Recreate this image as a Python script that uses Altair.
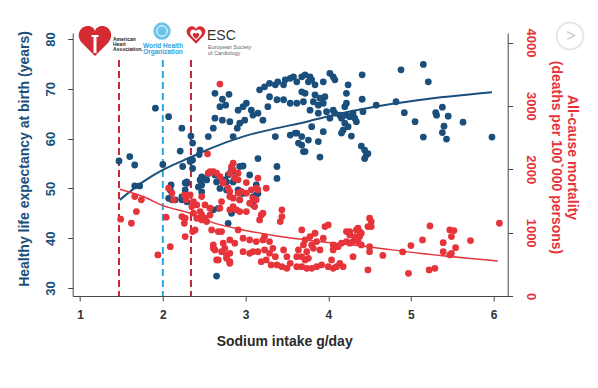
import altair as alt
import pandas as pd

# ---------------- data ----------------
blue_sodium = [1.47, 1.60, 1.66, 1.66, 1.72, 1.91, 2.00, 2.07, 2.10, 2.21, 2.23, 2.24, 2.27, 2.34, 2.36, 2.36, 2.36,
               2.45, 2.44, 2.47, 2.55, 2.61, 2.63, 2.63, 2.69, 2.72, 2.80, 2.76, 2.72, 2.81, 2.85, 2.90, 2.91, 2.97,
               3.01, 3.07, 3.09, 3.15, 3.21, 2.93, 2.99, 3.17, 3.23, 3.29, 3.36, 3.39, 3.46, 3.48, 3.54, 3.58, 3.62,
               3.29, 3.38, 3.46, 3.54, 3.62, 3.27, 3.15, 3.36, 3.38, 3.62, 3.64, 2.93, 2.85, 2.63,
               3.68, 3.72, 3.78, 3.80, 3.76, 3.84, 3.94, 4.02, 4.06, 4.08, 4.24, 4.22, 4.41, 3.68, 3.72, 3.84, 3.90,
               3.96, 3.70, 3.82, 3.88, 3.94, 3.78, 3.88, 3.98, 4.06, 4.08, 4.14, 4.16, 4.22, 4.26, 4.30, 4.32, 4.20,
               4.22, 4.41, 4.42, 4.02, 4.20, 4.24, 4.34, 4.18, 4.16, 4.28, 3.80, 3.94, 3.68, 3.76, 3.88, 3.72, 3.90,
               4.40, 4.44, 4.46, 4.48, 4.44, 4.58, 4.82, 4.88, 4.92, 5.05, 5.15, 5.21, 5.15, 5.30, 5.31, 5.38, 5.45,
               5.40, 5.38, 5.43, 5.63, 5.98,
               2.33, 2.97, 2.29, 2.27, 2.45, 2.49, 2.55, 2.63, 2.69, 2.77, 2.83, 2.87, 3.05, 3.13, 3.15, 3.09, 2.43,
               2.47, 2.07, 2.15, 2.23, 2.29, 2.61, 2.79, 2.65, 2.91, 2.97, 2.93, 3.38, 2.67, 2.83, 3.09, 3.13,
               3.54, 3.60, 3.68, 3.70, 2.79, 2.75, 2.85, 2.65, 2.53, 2.47, 2.69, 2.77, 2.95, 2.09, 2.11, 2.23, 2.29]
life_expectancy = [55.5, 56.4, 54.7, 50.5, 50.5, 66.1, 54.8, 64.4, 50.7, 57.5, 62.1, 54.4, 51.1, 60.5, 59.1, 55.7, 54.0,
                   57.7, 56.8, 52.3, 60.4, 62.1, 64.1, 69.1, 66.4, 67.9, 68.9, 66.7, 63.7, 63.4, 60.4, 62.1, 65.7, 66.4,
                   67.1, 65.7, 64.7, 65.1, 63.7, 63.1, 63.7, 69.8, 70.4, 71.1, 70.8, 71.4, 70.8, 71.8, 72.1, 72.4, 71.4,
                   68.4, 67.8, 67.8, 67.1, 67.1, 66.4, 56.0, 60.4, 54.4, 61.1, 59.1, 54.4, 53.4, 53.0,
                   72.4, 72.8, 72.4, 71.8, 71.4, 70.8, 71.4, 73.1, 72.4, 71.8, 70.8, 69.1, 72.8, 69.4, 69.1, 68.8, 68.1,
                   68.4, 67.4, 67.4, 66.7, 67.1, 65.7, 65.1, 65.4, 65.7, 65.1, 64.7, 64.1, 64.7, 64.4, 65.1, 64.1, 66.4,
                   67.1, 67.9, 65.4, 64.1, 63.1, 62.4, 63.4, 61.7, 61.1, 60.5, 62.4, 61.4, 60.4, 59.7, 59.4, 57.4, 56.3,
                   58.5, 57.7, 56.7, 57.0, 56.0, 66.7, 67.4, 73.8, 65.2, 63.4, 74.9, 71.4, 60.3, 65.2, 64.7, 66.3, 64.5,
                   62.5, 61.2, 59.9, 63.3, 60.3,
                   55.4, 54.5, 51.0, 49.7, 51.7, 52.0, 53.0, 52.7, 52.3, 51.3, 53.7, 52.0, 52.7, 50.7, 49.0, 48.3, 50.3,
                   49.3, 48.0, 47.7, 48.3, 47.3, 45.7, 43.0, 32.4, 49.7, 49.0, 47.7, 52.0, 46.0, 45.0, 46.7, 48.7,
                   60.7, 61.1, 58.7, 57.4, 52.7, 51.7, 51.3, 51.3, 51.7, 50.7, 50.0, 49.7, 49.3, 49.7, 47.7, 47.7, 51.3]

red_sodium = [1.49, 1.62, 1.66, 1.74, 1.68, 1.94, 2.04, 2.09, 2.11, 2.13, 2.07, 2.26, 2.28, 2.23, 2.27, 2.26, 2.27,
              2.35, 2.37, 2.41, 2.36, 2.39, 2.41, 2.47, 2.51, 2.57, 2.45, 2.47, 2.53, 2.59, 2.67, 2.71, 2.61, 2.63,
              2.65, 2.71, 2.77, 2.81, 2.73, 2.81, 2.87, 2.81, 2.85, 2.91, 2.93, 3.01, 3.09, 3.15, 3.25, 2.71, 2.69,
              2.81, 2.93, 3.01, 3.11, 3.19, 2.33, 2.37, 2.47, 2.51, 2.57, 2.55, 2.61, 2.69, 2.73, 2.79, 2.87, 2.81,
              2.95, 2.83, 2.85, 2.91, 3.13, 3.15, 2.85, 2.89, 3.05, 3.13, 3.21, 3.17, 3.44, 3.44, 3.42, 2.91, 2.97,
              3.05, 3.13, 3.21, 3.29, 3.23, 2.61, 2.75, 2.81, 2.67, 2.77, 2.81, 2.97, 3.05, 3.09, 3.15, 3.23, 3.29,
              3.33, 3.19, 3.25, 3.31, 3.38, 3.44, 3.50, 3.54, 3.62, 3.62, 3.64, 3.46, 3.50, 3.36,
              3.68, 3.72, 3.78, 3.84, 3.70, 3.80, 3.86, 3.94, 3.96, 4.00, 3.74, 3.82, 3.90, 3.68, 3.74, 3.80, 3.86,
              3.92, 4.00, 4.06, 4.10, 4.14, 4.04, 4.06, 3.68, 3.72, 3.76, 4.06, 4.12, 4.16, 4.22, 4.26, 4.30, 4.36,
              4.38, 4.32, 4.26, 4.40, 4.22, 4.26, 4.36, 4.38, 4.40, 4.50, 4.52, 4.48, 4.52, 4.50, 4.50, 4.30, 4.18,
              4.48, 4.66, 4.90, 5.00, 4.97, 5.14, 5.23, 5.22, 5.29, 5.39, 5.39, 5.47, 5.49, 5.47, 5.52, 5.49, 5.54,
              5.72, 6.07, 4.34, 2.69, 2.54, 2.85, 2.81, 2.91, 3.01, 3.07, 2.73, 2.65, 2.57]
mortality = [1212, 1148, 1569, 1517, 1332, 648, 1243, 779, 1622, 1517, 1701, 1595, 1517, 1253, 1227, 1148, 937,
             1411, 1306, 1227, 1016, 1043, 1437, 1569, 1437, 1385, 1332, 1201, 1174, 1043, 1016, 1016, 806, 727,
             569, 700, 648, 542, 833, 885, 833, 1648, 1543, 1622, 1517, 1622, 1543, 1675, 1701, 1490, 1385,
             1359, 1332, 1332, 1411, 1280, 1595, 1490, 1280, 1227, 1280, 1938, 1964, 1885, 1780, 1701, 1859, 1569,
             1648, 2043, 2096, 1833, 1701, 1859, 1411, 1359, 1464, 1517, 1306, 1201, 1359, 1253, 1174, 1043, 911,
             885, 858, 885, 858, 937, 753, 753, 674, 569, 595, 516, 700, 674, 700, 700, 727, 674,
             753, 542, 569, 490, 490, 463, 437, 516, 463, 621, 727, 727, 621, 621,
             1043, 885, 937, 990, 806, 806, 858, 911, 1095, 1122, 700, 753, 727, 463, 437, 437, 463,
             490, 463, 437, 463, 516, 569, 727, 621, 569, 595, 806, 779, 833, 858, 833, 858, 858,
             937, 937, 964, 806, 1016, 1016, 1069, 1016, 990, 1227, 1174, 1095, 1095, 779, 700, 621, 463,
             411, 640, 695, 795, 358, 885, 1106, 411, 437, 842, 700, 648, 674, 1043, 1032, 937, 763,
             874, 1148, 1043, 3344, 2243, 1990, 1938, 1938, 1790, 1675, 1806, 1938, 1964]

fit_life_sodium = [1.48, 1.76, 2.01, 2.33, 2.57, 2.97, 3.38, 3.74, 4.00, 4.50, 5.10, 5.98]
fit_life_years = [47.7, 51.3, 53.8, 56.2, 58.0, 60.4, 62.1, 63.4, 64.5, 66.2, 67.75, 69.3]
fit_mort_sodium = [1.48, 1.76, 2.01, 2.33, 2.57, 2.97, 3.38, 3.74, 4.50, 5.10, 6.05]
fit_mort_values = [1686, 1569, 1422, 1306, 1174, 1043, 948, 885, 774, 674, 553]

guide_sodium = [1.47, 2.0, 2.34]
guide_source = ["AHA", "WHO", "ESC"]
guide_top_years = 75.8

x_ticks = [1, 2, 3, 4, 5, 6]
life_ticks = [30, 40, 50, 60, 70, 80]
mort_ticks = [0, 1000, 2000, 3000, 4000]

# ---------------- styling ----------------
BLUE = "#1a4f7c"
RED = "#e6343b"
FONT = "Liberation Sans"
X_DOMAIN = [0.91, 6.17]
L_DOMAIN = [28.4, 81.2]
R_DOMAIN = [0, 4150]
W, H = 435, 263
X0, Y0 = 72.7, 33  # page position of the plot origin
HEART = ("M 0 0.95 L -0.82 0.12 C -1.25 -0.35 -0.95 -0.95 -0.45 -0.95 "
         "C -0.2 -0.95 0 -0.78 0 -0.58 C 0 -0.78 0.2 -0.95 0.45 -0.95 "
         "C 0.95 -0.95 1.25 -0.35 0.82 0.12 Z")

blue_df = pd.DataFrame({"sodium": blue_sodium, "life": life_expectancy})
red_df = pd.DataFrame({"sodium": red_sodium, "mort": mortality})
fit_l_df = pd.DataFrame({"sodium": fit_life_sodium, "life": fit_life_years})
fit_m_df = pd.DataFrame({"sodium": fit_mort_sodium, "mort": fit_mort_values})
guide_df = pd.DataFrame({"sodium": guide_sodium, "source": guide_source})

xscale = alt.Scale(domain=X_DOMAIN, nice=False, zero=False)
lscale = alt.Scale(domain=L_DOMAIN, nice=False, zero=False)
rscale = alt.Scale(domain=R_DOMAIN, nice=False, zero=False)

x_axis = alt.Axis(values=x_ticks, title="Sodium intake g/day", grid=False,
                  labelFont=FONT, labelFontSize=12, labelFontWeight="bold", labelColor="#333",
                  labelPadding=9, tickSize=5, tickColor="#444", domainColor="#444",
                  titleFont=FONT, titleFontSize=14, titleFontWeight="bold", titleColor="#2b2b2b",
                  titleX=211.5, titleY=45.7, titleAlign="center", titleBaseline="middle")

left_axis = alt.Axis(values=life_ticks, orient="left", grid=False,
                     title="Healthy life expectancy at birth (years)",
                     labelAngle=270, labelAlign="center", labelBaseline="alphabetic",
                     labelFont=FONT, labelFontSize=13, labelFontWeight="bold", labelColor=BLUE,
                     labelPadding=13, tickSize=5, tickColor="#444", domainColor="#444",
                     titleFont=FONT, titleFontSize=14, titleFontWeight="bold", titleColor=BLUE,
                     titleAngle=270, titleX=-47.7, titleY=125.5, titleAlign="center",
                     titleBaseline="middle")

right_axis = alt.Axis(values=mort_ticks, orient="right", grid=False, format="d",
                      title=["All-cause mortality", "(deaths per 100`000 persons)"],
                      labelAngle=90, labelAlign="center", labelBaseline="alphabetic",
                      labelFont=FONT, labelFontSize=13, labelFontWeight="bold", labelColor=RED,
                      labelPadding=14, tickSize=5, tickColor="#444", domainColor="#444",
                      titleFont=FONT, titleFontSize=14, titleFontWeight="bold", titleColor=RED,
                      titleAngle=90, titleX=63.8, titleY=124, titleAlign="center",
                      titleBaseline="middle", titleLineHeight=16)

guides = alt.Chart(guide_df).mark_rule(strokeWidth=2, strokeDash=[7, 4]).encode(
    x=alt.X("sodium:Q", scale=xscale, axis=x_axis),
    y=alt.Y(datum=guide_top_years, type="quantitative", scale=lscale, axis=left_axis),
    y2=alt.value(H),
    color=alt.Color("source:N", scale=alt.Scale(domain=guide_source,
                                                range=["#c8283a", "#2aa7e0", "#b8283a"]), legend=None),
)

blue_pts = alt.Chart(blue_df).mark_circle(size=46, opacity=1, color=BLUE).encode(
    x=alt.X("sodium:Q", scale=xscale, axis=x_axis),
    y=alt.Y("life:Q", scale=lscale, axis=left_axis),
)

left_layer = alt.layer(guides, blue_pts)

red_pts = alt.Chart(red_df).mark_circle(size=46, opacity=1, color=RED).encode(
    x=alt.X("sodium:Q", scale=xscale, axis=x_axis),
    y=alt.Y("mort:Q", scale=rscale, axis=right_axis),
)

blue_fit = alt.Chart(fit_l_df).mark_line(color=BLUE, strokeWidth=2, interpolate="monotone").encode(
    x=alt.X("sodium:Q", scale=xscale, axis=x_axis),
    y=alt.Y("life:Q", scale=lscale, axis=None),
)

red_fit = alt.Chart(fit_m_df).mark_line(color=RED, strokeWidth=1.5, interpolate="monotone").encode(
    x=alt.X("sodium:Q", scale=xscale, axis=x_axis),
    y=alt.Y("mort:Q", scale=rscale, axis=None),
)

one = pd.DataFrame({"k": [0]})


def deco(mark, x, y):
    return alt.Chart(one).mark_text(**mark).encode(x=alt.value(x - X0), y=alt.value(y - Y0))


def dot(x, y, **kw):
    return alt.Chart(one).mark_point(**kw).encode(x=alt.value(x - X0), y=alt.value(y - Y0))


def bar(x, y, x2, y2, color):
    return alt.Chart(one).mark_rect(color=color).encode(
        x=alt.value(x - X0), x2=alt.value(x2 - X0), y=alt.value(y - Y0), y2=alt.value(y2 - Y0))


logos = alt.layer(
    # American Heart Association
    dot(95, 41, shape=HEART, filled=True, size=1000, color="#d42a31", opacity=1),
    bar(93.5, 36, 96.5, 53, "white"),
    bar(91.5, 35, 98.5, 37, "white"),
    deco(dict(text="American", font=FONT, fontSize=5, fontWeight="bold", color="#222",
              align="left", baseline="middle"), 113, 39),
    deco(dict(text="Heart", font=FONT, fontSize=5, fontWeight="bold", color="#222",
              align="left", baseline="middle"), 113, 44),
    deco(dict(text="Association.", font=FONT, fontSize=5, fontWeight="bold", color="#222",
              align="left", baseline="middle"), 113, 49),
    # World Health Organization
    dot(162, 31, shape="circle", filled=True, size=300, color="#6cc3ea", opacity=1),
    dot(162, 31, shape="circle", filled=False, size=110, color="white", strokeWidth=1, opacity=1),
    deco(dict(text="World Health", font=FONT, fontSize=6.5, fontWeight="bold", color="#3aa0dc",
              align="center", baseline="middle"), 163, 46),
    deco(dict(text="Organization", font=FONT, fontSize=6.5, fontWeight="bold", color="#3aa0dc",
              align="center", baseline="middle"), 163, 52),
    # European Society of Cardiology
    dot(196, 35, shape=HEART, filled=True, size=330, color="#d42a31", opacity=1),
    dot(196, 35, shape=HEART, filled=True, size=130, color="white", opacity=1),
    dot(196, 36, shape=HEART, filled=True, size=40, color="#d42a31", opacity=1),
    deco(dict(text="ESC", font=FONT, fontSize=14, color="#333",
              align="left", baseline="middle"), 207, 36),
    deco(dict(text="European Society", font=FONT, fontSize=5.5, color="#666",
              align="left", baseline="middle"), 208, 47),
    deco(dict(text="of Cardiology", font=FONT, fontSize=5.5, color="#666",
              align="left", baseline="middle"), 208, 53),
    # page navigation button
    dot(570, 36, shape="circle", filled=False, size=720, color="#e6e6e6", strokeWidth=2, opacity=1),
    deco(dict(text=">", font=FONT, fontSize=16, color="#c8c8c8",
              align="center", baseline="middle"), 571, 36),
)

chart = alt.layer(left_layer, red_pts, blue_fit, red_fit, logos).resolve_scale(
    y="independent"
).properties(
    width=W, height=H,
    autosize=alt.AutoSizeParams(type="none"),
    padding={"left": X0 - 8, "top": Y0 - 8, "right": 78, "bottom": 62},
    background="white",
).configure_view(stroke=None)

chart.save("out.html", embed_options={"renderer": "svg", "actions": False})
